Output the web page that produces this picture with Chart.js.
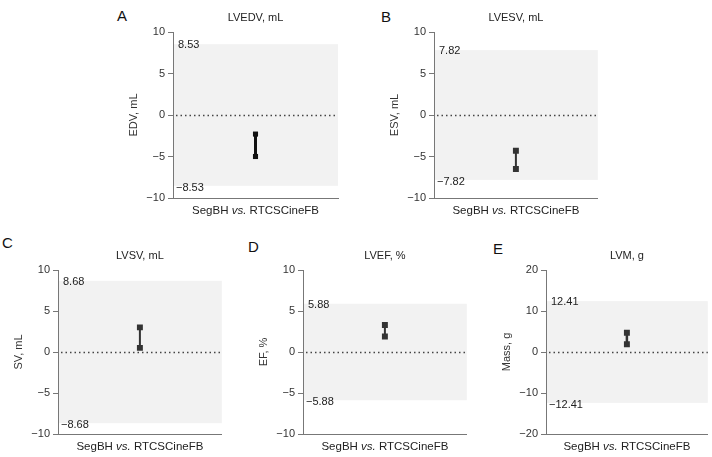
<!DOCTYPE HTML>
<html>
<head>
  <script src="https://cdn.jsdelivr.net/npm/chart.js"></script>
  <style>
    body { margin: 0; width: 712px; height: 457px; overflow: hidden; background: #fff; position: relative; font-family: "Liberation Sans", Arial, sans-serif; }
    canvas { position: absolute; }
    .letter { position: absolute; font-size: 15px; line-height: 15px; color: #111; }
  </style>
</head>
<body>
  <script>
    // Values
    var panelLetters = ['A', 'B', 'C', 'D', 'E'];
    var panelTitles = ['LVEDV, mL', 'LVESV, mL', 'LVSV, mL', 'LVEF, %', 'LVM, g'];
    var axisTitles = ['EDV, mL', 'ESV, mL', 'SV, mL', 'EF, %', 'Mass, g'];
    var categories = ['SegBH vs. RTCSCineFB'];
    var limits = [8.53, 7.82, 8.68, 5.88, 12.41];      // limits of agreement (+/-)
    var lowValues = [-5.0, -6.5, 0.5, 1.9, 1.9];
    var highValues = [-2.3, -4.3, 3.0, 3.3, 4.7];
    var axisMax = [10, 10, 10, 10, 20];
    var axisStep = [5, 5, 5, 5, 10];

    // Where each panel sits on the page (y axis x, plot right/top/bottom, letter corner)
    var layout = [
      { axis: 173, right: 340, top: 32, bottom: 198, letter: [117, 8], bar: 3, dot: 3.6, col: '#111' },
      { axis: 434, right: 600, top: 32, bottom: 198, letter: [381, 9], bar: 2, dot: 4.2, col: '#333' },
      { axis: 58, right: 224, top: 270, bottom: 434, letter: [2, 235], bar: 2, dot: 4.2, col: '#333' },
      { axis: 303, right: 469, top: 270, bottom: 434, letter: [248, 239], bar: 2, dot: 4.2, col: '#333' },
      { axis: 546, right: 712, top: 270, bottom: 434, letter: [493, 241], bar: 2.5, dot: 4.2, col: '#333' }
    ];

    var FONT = '"Liberation Sans", Arial, sans-serif';
    var TEXT = '#333';
    var AXIS = '#777';
    var PAD_TOP = 30, Y_WIDTH = 50, X_HEIGHT = 25;

    function minus(v) {
      return String(v).replace('-', '\u2212');
    }

    // band, zero line, limit labels, title and x label
    function makePlugin(i) {
      return {
        id: 'panel' + i,
        beforeDraw: function (chart) {
          var ctx = chart.ctx, a = chart.chartArea, y = chart.scales.y;
          var yTop = y.getPixelForValue(limits[i]);
          var yBot = y.getPixelForValue(-limits[i]);
          ctx.save();
          ctx.fillStyle = '#f2f2f2';
          ctx.fillRect(a.left + 1, yTop, a.right - a.left - 1, yBot - yTop);

          var y0 = Math.round(y.getPixelForValue(0)) + 0.5;
          ctx.strokeStyle = '#444';
          ctx.lineWidth = 1.5;
          ctx.setLineDash([1.5, 3]);
          ctx.beginPath();
          ctx.moveTo(a.left + 3, y0);
          ctx.lineTo(a.right, y0);
          ctx.stroke();
          ctx.setLineDash([]);

          ctx.fillStyle = '#222';
          ctx.font = '11px ' + FONT;
          ctx.textAlign = 'left';
          ctx.textBaseline = 'middle';
          ctx.fillText(limits[i].toFixed(2), a.left + 5, yTop + 1);
          ctx.fillText(minus((-limits[i]).toFixed(2)), a.left + 3, yBot + 2);
          ctx.restore();
        },
        afterDraw: function (chart) {
          var ctx = chart.ctx, a = chart.chartArea;
          var mid = (a.left + a.right) / 2;
          ctx.save();
          ctx.fillStyle = '#222';
          ctx.textBaseline = 'middle';
          ctx.textAlign = 'center';
          ctx.font = '11px ' + FONT;
          ctx.fillText(panelTitles[i], mid, a.top - 14);

          // category label with italic "vs."
          var parts = categories[0].split(' vs. ');
          var pieces = [
            { t: parts[0] + ' ', f: '11.5px ' + FONT },
            { t: 'vs.', f: 'italic 11.5px ' + FONT },
            { t: ' ' + parts[1], f: '11.5px ' + FONT }
          ];
          var total = 0;
          pieces.forEach(function (p) { ctx.font = p.f; p.w = ctx.measureText(p.t).width; total += p.w; });
          var x = mid - total / 2;
          ctx.textAlign = 'left';
          pieces.forEach(function (p) {
            ctx.font = p.f;
            ctx.fillText(p.t, x, a.bottom + 13);
            x += p.w;
          });
          ctx.restore();
        }
      };
    }

    layout.forEach(function (L, i) {
      var letter = document.createElement('div');
      letter.className = 'letter';
      letter.textContent = panelLetters[i];
      letter.style.left = L.letter[0] + 'px';
      letter.style.top = L.letter[1] + 'px';
      document.body.appendChild(letter);

      var padRight = i === 4 ? 0 : 2;
      var canvas = document.createElement('canvas');
      canvas.width = L.right - L.axis + Y_WIDTH + padRight;
      canvas.height = L.bottom - L.top + PAD_TOP + X_HEIGHT;
      canvas.style.left = (L.axis - Y_WIDTH) + 'px';
      canvas.style.top = (L.top - PAD_TOP) + 'px';
      document.body.appendChild(canvas);

      new Chart(canvas.getContext('2d'), {
        type: 'line',
        data: {
          labels: categories,
          datasets: [{
            data: [{ x: categories[0], y: lowValues[i] }, { x: categories[0], y: highValues[i] }],
            borderColor: L.col,
            borderWidth: L.bar,
            pointStyle: 'rect',
            pointRadius: L.dot,
            pointBackgroundColor: L.col,
            pointBorderColor: L.col,
            pointBorderWidth: 0
          }]
        },
        options: {
          responsive: false,
          animation: false,
          devicePixelRatio: 1,
          layout: { padding: { top: PAD_TOP, right: padRight, left: 0, bottom: 0 } },
          plugins: { legend: { display: false }, tooltip: { enabled: false } },
          scales: {
            x: {
              offset: true,
              ticks: { display: false },
              grid: { display: false },
              border: { color: AXIS, width: 1 },
              afterFit: function (s) { s.height = X_HEIGHT; }
            },
            y: {
              min: -axisMax[i],
              max: axisMax[i],
              ticks: {
                stepSize: axisStep[i],
                padding: 3,
                color: TEXT,
                font: { family: FONT, size: 11 },
                callback: function (v) { return minus(v); }
              },
              grid: { drawOnChartArea: false, tickLength: 5, color: AXIS },
              border: { color: AXIS, width: 1 },
              title: { display: true, text: axisTitles[i], color: TEXT, font: { family: FONT, size: 11 } },
              afterFit: function (s) { s.width = Y_WIDTH; }
            }
          }
        },
        plugins: [makePlugin(i)]
      });
    });
  </script>
</body>
</html>
